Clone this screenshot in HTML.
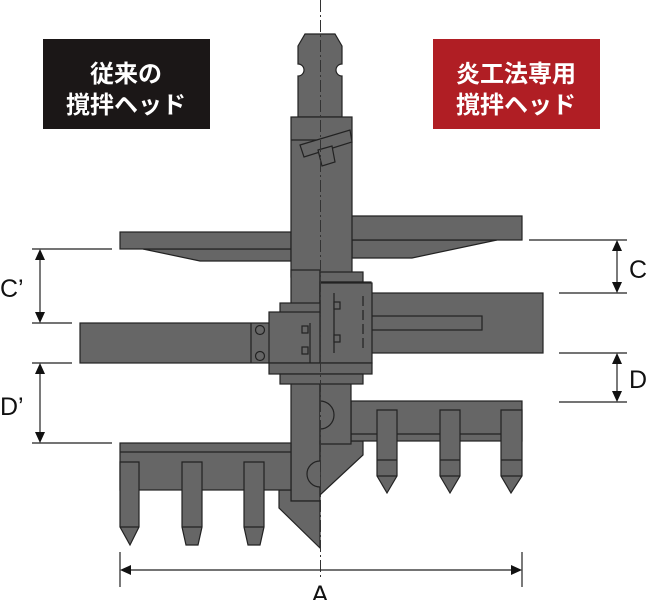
<!DOCTYPE html>
<html><head><meta charset="utf-8"><style>
html,body{margin:0;padding:0;background:#fff;}
svg{display:block}
.t{font-family:"Liberation Sans","Noto Sans CJK JP",sans-serif;font-weight:bold;}
</style></head><body>
<svg width="649" height="600" viewBox="0 0 649 600" xmlns="http://www.w3.org/2000/svg">
<rect x="43" y="39" width="167" height="90" fill="#1b1717"/>
<rect x="433" y="39" width="167" height="90" fill="#b01e24"/>
<g class="t" fill="#fff" font-size="24" text-anchor="middle">
<text x="126" y="82">従来の</text>
<text x="126" y="113">撹拌ヘッド</text>
<text x="516" y="82">炎工法専用</text>
<text x="516" y="113">撹拌ヘッド</text>
</g>
<g fill="#666" stroke="#222" stroke-width="1.2">
<!-- pin -->
<path d="M305,34 L335,34 L342,46 L342,64 A6,6 0 0 0 342,76 L342,117 L298,117 L298,76 A6,6 0 0 0 298,64 L298,46 Z"/>
<!-- left blade -->
<path d="M143,249 L200,261 L291,261 L291,249 Z"/>
<rect x="120" y="232" width="171" height="17"/>
<!-- right blade -->
<path d="M352,240 L497,240 L412,258 L352,258 Z"/>
<path d="M350,216 L522,216 L522,240 L347,240 Z"/>
<!-- main shaft -->
<rect x="291" y="117" width="61" height="160"/>
<line x1="291" y1="140" x2="352" y2="140"/>
<path d="M300,145 L350,130 L352,142 L304,157 Z"/>
<path d="M318,150 L332,146 L335,162 L322,166 Z"/>
<!-- left lower column -->
<rect x="291" y="270" width="29" height="231"/>
<!-- left lower wedge -->
<path d="M279,490 L291,490 L291,501 L320,501 L320,548 L279,508 Z"/>
<!-- left rake -->
<rect x="120" y="443" width="171" height="47"/>
<line x1="120" y1="452" x2="291" y2="452"/>
<path d="M120,462 L139,462 L139,527 L130,545 L120,527 Z"/>
<line x1="120" y1="527" x2="139" y2="527"/>
<path d="M182,462 L202,462 L202,527 L198,545 L186,545 L182,527 Z"/>
<line x1="182" y1="527" x2="202" y2="527"/>
<path d="M244,462 L264,462 L264,527 L260,545 L248,545 L244,527 Z"/>
<line x1="244" y1="527" x2="264" y2="527"/>
<!-- right lower -->
<path d="M320,441 L363,441 L363,455 L320,495 Z"/>
<rect x="351" y="401" width="171" height="40"/>
<line x1="351" y1="434" x2="522" y2="434"/>
<path d="M377,410 L397,410 L397,476 L387,493 L377,476 Z"/>
<line x1="377" y1="460" x2="397" y2="460"/><line x1="377" y1="476" x2="397" y2="476"/>
<path d="M440,410 L460,410 L460,476 L450,493 L440,476 Z"/>
<line x1="440" y1="460" x2="460" y2="460"/><line x1="440" y1="476" x2="460" y2="476"/>
<path d="M501,410 L522,410 L522,476 L511,493 L501,476 Z"/>
<line x1="501" y1="460" x2="522" y2="460"/><line x1="501" y1="476" x2="522" y2="476"/>
<rect x="320" y="375" width="31" height="69"/>
<path d="M320,401 A14,14 0 0 1 320,429"/>
<path d="M320,461 A13,13 0 0 0 320,487"/>
<!-- steps -->
<rect x="320" y="272" width="43" height="10"/>
<rect x="320" y="282" width="51" height="11"/>
<!-- right arm -->
<rect x="320" y="293" width="223" height="60"/>
<rect x="363" y="316" width="119" height="14"/>
<rect x="320" y="283" width="52" height="80"/>
<line x1="334" y1="293" x2="334" y2="353"/>
<line x1="363" y1="296" x2="363" y2="350" stroke-dasharray="10,4"/>
<!-- left arm -->
<rect x="80" y="323" width="190" height="40"/>
<rect x="280" y="303" width="40" height="10"/>
<rect x="269" y="312" width="51" height="51"/>
<rect x="269" y="363" width="103" height="11"/>
<rect x="280" y="374" width="83" height="10"/>
<line x1="251" y1="323" x2="251" y2="363"/>
<line x1="310" y1="323" x2="310" y2="363"/>
<circle cx="260" cy="330" r="4.5"/><circle cx="260" cy="356" r="4.5"/>
<rect x="302" y="326" width="6" height="7"/><rect x="302" y="347" width="6" height="7"/>
<rect x="334" y="302" width="6" height="7"/><rect x="334" y="335" width="6" height="7"/>
</g>
<!-- centerline -->
<line x1="320.5" y1="0" x2="320.5" y2="580" stroke="#333" stroke-width="1" stroke-dasharray="12,3,2,3"/>
<!-- dimensions -->
<g stroke="#222" stroke-width="1.2" fill="none">
<line x1="120" y1="552" x2="120" y2="587"/><line x1="522" y1="552" x2="522" y2="587"/>
<line x1="122" y1="570" x2="520" y2="570"/>
<line x1="529" y1="240" x2="627" y2="240"/><line x1="559" y1="293" x2="627" y2="293"/>
<line x1="559" y1="353" x2="627" y2="353"/><line x1="559" y1="402" x2="627" y2="402"/>
<line x1="617" y1="242" x2="617" y2="291"/><line x1="617" y1="355" x2="617" y2="400"/>
<line x1="32" y1="249" x2="112" y2="249"/><line x1="32" y1="323" x2="72" y2="323"/>
<line x1="32" y1="363" x2="72" y2="363"/><line x1="32" y1="443" x2="112" y2="443"/>
<line x1="40" y1="251" x2="40" y2="321"/><line x1="40" y1="365" x2="40" y2="441"/>
</g>
<g fill="#111">
<path d="M120,570 L131,565 L131,575 Z"/><path d="M522,570 L511,565 L511,575 Z"/>
<path d="M617,240 L612,251 L622,251 Z"/><path d="M617,293 L612,282 L622,282 Z"/>
<path d="M617,353 L612,364 L622,364 Z"/><path d="M617,402 L612,391 L622,391 Z"/>
<path d="M40,249 L35,260 L45,260 Z"/><path d="M40,323 L35,312 L45,312 Z"/>
<path d="M40,363 L35,374 L45,374 Z"/><path d="M40,443 L35,432 L45,432 Z"/>
</g>
<g class="t" fill="#111" font-size="25" font-weight="normal" style="font-weight:normal">
<text x="629" y="278">C</text>
<text x="629" y="388">D</text>
<text x="0" y="297">C’</text>
<text x="0" y="415">D’</text>
<text x="320" y="603" text-anchor="middle">A</text>
</g>
</svg>
</body></html>
